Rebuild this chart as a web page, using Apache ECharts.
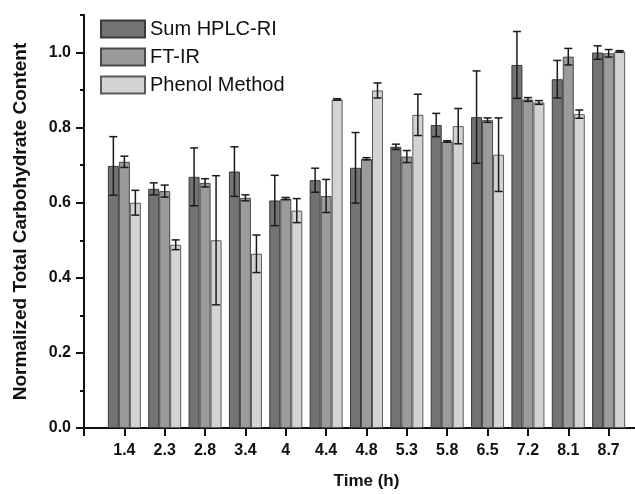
<!DOCTYPE html>
<html>
<head>
<meta charset="utf-8">
<script src="https://cdn.jsdelivr.net/npm/echarts@6/dist/echarts.min.js"></script>
<style>
html,body{margin:0;padding:0;background:#fff;}
#chart{width:635px;height:494px;}
</style>
</head>
<body>
<div id="chart"></div>
<script>
// Time points (h)
var categories = ['1.4','2.3','2.8','3.4','4','4.4','4.8','5.3','5.8','6.5','7.2','8.1','8.7'];
// Sum HPLC-RI
var hplc    = [0.698,0.637,0.669,0.683,0.606,0.660,0.693,0.749,0.807,0.828,0.967,0.929,1.000];
var hplcErr = [0.078,0.016,0.077,0.066,0.067,0.032,0.094,0.007,0.031,0.123,0.089,0.050,0.018];
// FT-IR
var ftir    = [0.709,0.631,0.653,0.613,0.611,0.618,0.717,0.723,0.763,0.820,0.875,0.989,0.998];
var ftirErr = [0.015,0.016,0.011,0.008,0.003,0.044,0.003,0.016,0.002,0.006,0.005,0.022,0.010];
// Phenol Method
var phenol    = [0.600,0.488,0.500,0.464,0.579,0.875,0.899,0.834,0.804,0.728,0.867,0.836,1.003];
var phenolErr = [0.033,0.013,0.172,0.050,0.032,0.002,0.020,0.055,0.047,0.098,0.005,0.011,0.002];
var seriesNames = ['Sum HPLC-RI','FT-IR','Phenol Method'];
var yMajorTicks = [0,0.2,0.4,0.6,0.8,1.0];

var FONT = 'Liberation Sans';
var BAR_W = 11;
var fills = ['#737373','#9b9b9b','#d3d3d3'];
var borders = ['#3a3a3a','#4a4a4a','#5a5a5a'];

var chart = echarts.init(document.getElementById('chart'), null, {renderer:'canvas'});

function pts(vals){ return vals.map(function(v,i){ return [i+1, v]; }); }
function errPts(vals, errs){ return vals.map(function(v,i){ return [i+1, v, errs[i]]; }); }

var allVals = [hplc, ftir, phenol];
var allErrs = [hplcErr, ftirErr, phenolErr];

var series = [];
for (var s=0; s<3; s++){
  series.push({
    name: seriesNames[s], type:'bar', xAxisIndex:0, yAxisIndex:0,
    data: pts(allVals[s]), barWidth: BAR_W, barGap:'0%',
    itemStyle:{color:fills[s], borderColor:borders[s], borderWidth:1},
    emphasis:{disabled:true}, animation:false, z:2
  });
}
for (var s2=0; s2<3; s2++){
  (function(si){
    series.push({
      type:'custom', xAxisIndex:0, yAxisIndex:0, z:5, animation:false, silent:true,
      data: errPts(allVals[si], allErrs[si]),
      encode:{x:0, y:1},
      renderItem:function(params, api){
        var x = api.value(0), v = api.value(1), e = api.value(2);
        var hi = api.coord([x, v+e]);
        var lo = api.coord([x, v-e]);
        var off = (si-1)*BAR_W;
        var cx = hi[0] + off;
        var cap = 4;
        var st = {stroke:'#1a1a1a', lineWidth:1.5};
        return {type:'group', children:[
          {type:'line', shape:{x1:cx,y1:hi[1],x2:cx,y2:lo[1]}, style:st},
          {type:'line', shape:{x1:cx-cap,y1:hi[1],x2:cx+cap,y2:hi[1]}, style:st},
          {type:'line', shape:{x1:cx-cap,y1:lo[1],x2:cx+cap,y2:lo[1]}, style:st}
        ]};
      }
    });
  })(s2);
}

var option = {
  animation:false,
  grid:{left:84, width:565, top:15, height:413, containLabel:false, outerBoundsMode:'none'},
  legend:{
    orient:'vertical', left:100, top:19, itemWidth:44, itemHeight:17, itemGap:8,
    padding:0, selectedMode:false, icon:'rect',
    data: seriesNames,
    textStyle:{fontFamily:FONT, fontSize:20, color:'#111'}
  },
  xAxis:[{
    type:'value', min:0, max:14, interval:1,
    axisLine:{show:true, onZero:false, lineStyle:{color:'#111', width:2}},
    axisTick:{show:true, inside:false, length:8, lineStyle:{color:'#111', width:2}},
    splitLine:{show:false},
    axisLabel:{
      margin:15, fontFamily:FONT, fontWeight:'bold', fontSize:16, color:'#111',
      formatter:function(v){ return (v>=1 && v<=categories.length) ? categories[v-1] : ''; }
    },
    name:'Time (h)', nameLocation:'middle', nameGap:45,
    nameTextStyle:{fontFamily:FONT, fontWeight:'bold', fontSize:17, color:'#111'}
  }],
  yAxis:[{
    type:'value', min:0, max:1.1, interval:0.2,
    axisLine:{show:true, lineStyle:{color:'#111', width:2}},
    axisTick:{show:true, inside:false, length:8, lineStyle:{color:'#111', width:2}, customValues: yMajorTicks},
    splitLine:{show:false},
    axisLabel:{
      margin:13, fontFamily:FONT, fontWeight:'bold', fontSize:16, color:'#111',
      customValues: yMajorTicks,
      formatter:function(v){ return v.toFixed(1); }
    },
    name:'Normalized Total Carbohydrate Content', nameLocation:'middle', nameGap:54,
    nameTextStyle:{fontFamily:FONT, fontWeight:'bold', fontSize:19, color:'#111'}
  },{
    type:'value', min:0, max:1.1, interval:0.1, position:'left',
    axisLine:{show:false},
    axisTick:{show:true, inside:false, length:4, lineStyle:{color:'#111', width:2}},
    splitLine:{show:false},
    axisLabel:{show:false}
  }],
  series: series
};
chart.setOption(option);
</script>
</body>
</html>
